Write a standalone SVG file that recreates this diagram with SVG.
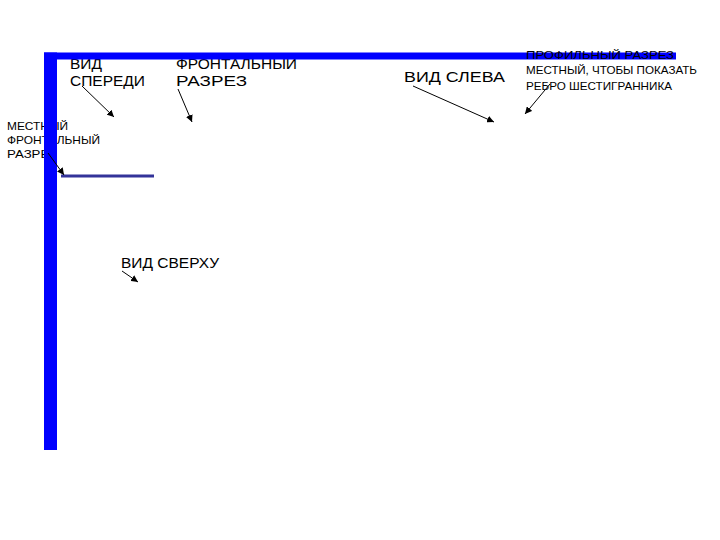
<svg xmlns="http://www.w3.org/2000/svg" width="720" height="540" viewBox="0 0 720 540">
<style>
text { font-family: "Liberation Sans", Arial, sans-serif; fill: #000; }
.big { font-size: 15.5px; }
.small { font-size: 10.5px; }
.arr { stroke: #000; stroke-width: 1; fill: none; marker-end: url(#ah); }
.bar { fill: #0000FF; }
</style>
<defs>
<marker id="ah" viewBox="0 0 10 10" refX="10" refY="5" markerWidth="7" markerHeight="7" markerUnits="userSpaceOnUse" orient="auto">
<path d="M0,0 L10,5 L0,10 z" fill="#000"/>
</marker>
</defs>
<rect width="720" height="540" fill="#fff"/>
<g id="vid-speredi">
<text class="big" x="70" y="68.5">ВИД</text>
<text class="big" x="70" y="85.5" textLength="75" lengthAdjust="spacingAndGlyphs">СПЕРЕДИ</text>
</g>
<g id="frontalny-razrez">
<text class="big" x="176" y="68.5" textLength="121" lengthAdjust="spacingAndGlyphs">ФРОНТАЛЬНЫЙ</text>
<text class="big" x="176" y="85.5" textLength="71" lengthAdjust="spacingAndGlyphs">РАЗРЕЗ</text>
</g>
<g id="vid-sleva">
<text class="big" x="404" y="82" textLength="101" lengthAdjust="spacingAndGlyphs">ВИД СЛЕВА</text>
</g>
<g id="mestny-frontalny-razrez">
<text class="small" x="7" y="129.5" textLength="61" lengthAdjust="spacingAndGlyphs">МЕСТНЫЙ</text>
<text class="small" x="7" y="143.5" textLength="93" lengthAdjust="spacingAndGlyphs">ФРОНТАЛЬНЫЙ</text>
<text class="small" x="7" y="158" textLength="50" lengthAdjust="spacingAndGlyphs">РАЗРЕЗ</text>
</g>
<g id="vid-sverhu">
<text class="big" x="121" y="267.5" textLength="98" lengthAdjust="spacingAndGlyphs">ВИД СВЕРХУ</text>
</g>
<g id="frame">
<rect class="bar" x="44" y="52.5" width="632" height="7"/>
<rect class="bar" x="44" y="52.5" width="13" height="397.5"/>
<line x1="61" y1="176" x2="154" y2="176" stroke="#333399" stroke-width="3"/>
</g>
<g id="profilny-razrez">
<text class="small" x="526" y="58.5" textLength="148" lengthAdjust="spacingAndGlyphs" fill="#000033">ПРОФИЛЬНЫЙ РАЗРЕЗ</text>
<text class="small" x="526" y="73.5" textLength="171" lengthAdjust="spacingAndGlyphs">МЕСТНЫЙ, ЧТОБЫ ПОКАЗАТЬ</text>
<text class="small" x="526" y="89.5" textLength="146" lengthAdjust="spacingAndGlyphs">РЕБРО ШЕСТИГРАННИКА</text>
</g>
<g id="connectors">
<line class="arr" x1="82" y1="86" x2="114" y2="117"/>
<line class="arr" x1="178" y1="89" x2="192" y2="122"/>
<line class="arr" x1="413" y1="86" x2="494" y2="122"/>
<line class="arr" x1="550" y1="84" x2="525" y2="114"/>
<line class="arr" x1="48" y1="153" x2="64" y2="175"/>
<line class="arr" x1="122" y1="271" x2="138" y2="282"/>
</g>
</svg>
